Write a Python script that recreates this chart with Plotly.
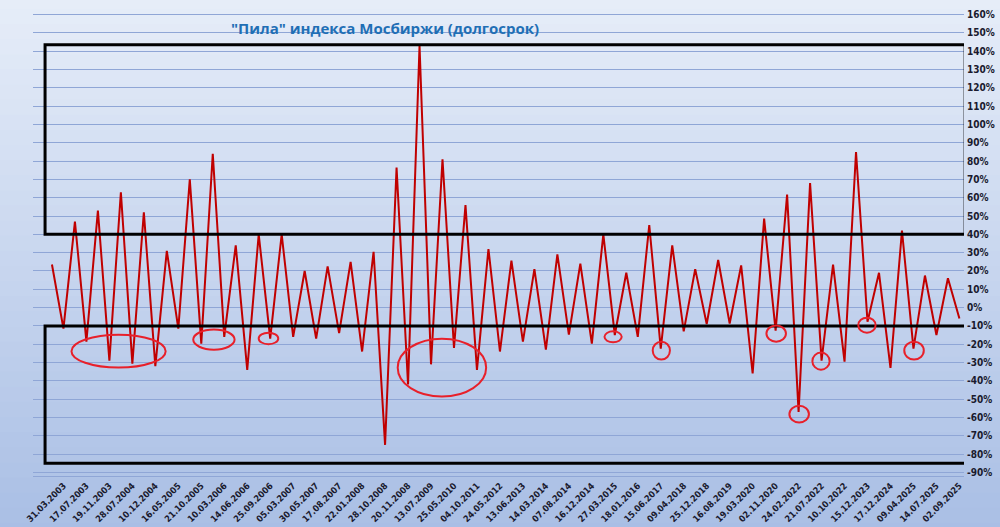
import plotly.graph_objects as go

values = [23.5, -11.5, 47, -18.6, 53, -29, 63, -30.6, 52, -32,
          31, -11.5, 70, -19.7, 84, -16, 34, -34, 40, -17,
          40, -16, 20, -17, 22.5, -14, 25, -24, 30.5, -75,
          76.5, -42, 143, -31, 81, -22, 56, -34, 32, -24,
          25.7, -18.6, 21, -23, 29, -14.8, 24, -19.7, 40, -15,
          19, -16, 45, -22.4, 34, -13, 21, -9, 26, -8.7,
          23, -36, 48.6, -12.6, 61.7, -57, 68, -29, 23.5, -29.5,
          85, -7.7, 19, -33, 42, -22.4, 17.5, -15, 16, -6]

tick_labels = ["31.03.2003", "17.07.2003", "19.11.2003", "28.07.2004", "10.12.2004",
               "16.05.2005", "21.10.2005", "10.03.2006", "14.06.2006", "25.09.2006",
               "05.03.2007", "30.05.2007", "17.08.2007", "22.01.2008", "28.10.2008",
               "20.11.2008", "13.07.2009", "25.05.2010", "04.10.2011", "24.05.2012",
               "13.06.2013", "14.03.2014", "07.08.2014", "16.12.2014", "27.03.2015",
               "18.01.2016", "15.06.2017", "09.04.2018", "25.12.2018", "16.08.2019",
               "19.03.2020", "02.11.2020", "24.02.2022", "21.07.2022", "10.10.2022",
               "15.12.2023", "17.12.2024", "09.04.2025", "14.07.2025", "02.09.2025"]

y_ticks = list(range(-90, 161, 10))

title = "\"Пила\" индекса Мосбиржи (долгосрок)"

# highlighted troughs: (x0, x1, y0, y1)
circles = [(1.7, 9.9, -14.8, -32.8), (12.3, 15.9, -12, -23), (18, 19.7, -13.7, -20),
           (30.1, 37.8, -17, -48.6), (48.1, 49.6, -13, -19), (52.3, 53.8, -18.6, -28.4),
           (62.2, 63.9, -9.8, -18.6), (64.2, 65.9, -53.6, -62.8), (66.2, 67.7, -24.6, -33.9),
           (70.2, 71.7, -5.5, -13.7), (74.2, 75.9, -18.6, -28.4)]

xs = list(range(len(values)))
tickvals = list(range(1, len(values), 2))

fig = go.Figure()
fig.add_trace(go.Scatter(x=xs, y=values, mode="lines",
                         line=dict(color="#c00000", width=2), hoverinfo="skip"))

shapes = []
n = 40
c0 = (234, 240, 250)
c1 = (166, 188, 228)
for i in range(n):
    t = i / (n - 1)
    c = tuple(int(c0[k] + (c1[k] - c0[k]) * t) for k in range(3))
    shapes.append(dict(type="rect", xref="paper", yref="paper", x0=-0.1, x1=1.1,
                       y0=1.1 - (i + 1) * 1.3 / n, y1=1.1 - i * 1.3 / n + 0.002,
                       fillcolor="rgb(%d,%d,%d)" % c, line_width=0, layer="below"))
shapes.append(dict(type="rect", xref="x", yref="y", x0=-0.6, x1=79.5, y0=40, y1=143.5,
                   line=dict(color="black", width=3)))
shapes.append(dict(type="rect", xref="x", yref="y", x0=-0.6, x1=79.9, y0=-10, y1=-85,
                   line=dict(color="black", width=3)))
for x0, x1, y0, y1 in circles:
    shapes.append(dict(type="circle", xref="x", yref="y", x0=x0, x1=x1, y0=y0, y1=y1,
                       line=dict(color="#e8202a", width=2)))

fig.update_layout(
    width=1000, height=527, showlegend=False,
    paper_bgcolor="rgba(0,0,0,0)", plot_bgcolor="rgba(0,0,0,0)",
    margin=dict(l=33, r=36, t=11, b=51, autoexpand=False),
    shapes=shapes,
    xaxis=dict(range=[-1.65, 79.4], tickmode="array", tickvals=tickvals,
               ticktext=["<b>%s</b>" % s for s in tick_labels],
               tickangle=-45, showgrid=False, zeroline=False, showline=True, automargin=False,
               linecolor="#8fa6d6", linewidth=1,
               tickfont=dict(family="DejaVu Sans Condensed, Liberation Sans Narrow, Arial", size=9, color="#1a1a2e")),
    yaxis=dict(range=[-92, 162], side="right", tickmode="array", automargin=False,
               tickvals=y_ticks, ticktext=["<b>%d%%</b>" % v for v in y_ticks],
               gridcolor="#8fa6d6", gridwidth=1, zeroline=False, ticklabelstandoff=2,
               tickfont=dict(family="Liberation Sans Narrow, DejaVu Sans Condensed", size=10, color="#1a1a2e")),
    font=dict(family="DejaVu Sans"),
    annotations=[dict(text="<b>%s</b>" % title, xref="x", yref="y",
                      x=29, y=152.5, showarrow=False,
                      font=dict(family="Open Sans, DejaVu Sans", size=15, color="#1f6fb5"))],
)
fig.write_html("out.html", config={"displayModeBar": False},
               post_script="document.body.style.margin='0';")
